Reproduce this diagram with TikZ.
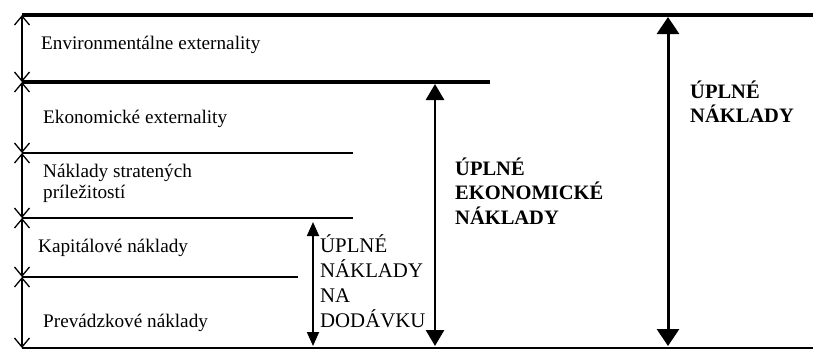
\documentclass[tikz,border=0pt]{standalone}
\usepackage{fontspec}
\setmainfont{Liberation Serif}
\usetikzlibrary{arrows.meta}
\newcommand{\firstline}{\rule{0pt}{20pt}}
\begin{document}
\begin{tikzpicture}[x=1pt,y=-1pt,
  seg/.style={line width=1.3pt,{Straight Barb[length=9pt,width=15pt]}-{Straight Barb[length=9pt,width=15pt]}},
  bigarrow/.style={line width=3pt,{Triangle[length=17pt,width=22pt]}-{Triangle[length=17pt,width=22pt]}},
  midarrow/.style={line width=2.8pt,{Triangle[length=16pt,width=18pt]}-{Triangle[length=16pt,width=18pt]}},
  smallarrow/.style={line width=1.8pt,{Triangle[length=14pt,width=12pt]}-{Triangle[length=14pt,width=12pt]}},
  lbl/.style={anchor=base west,inner sep=0pt,font=\fontsize{19.2}{23}\selectfont},
  mlbl/.style={anchor=north west,inner sep=0pt,align=left,font=\fontsize{19.2}{21.5}\selectfont},
  blbl/.style={anchor=north west,inner sep=0pt,align=left,font=\fontsize{20.5}{24.5}\selectfont\bfseries},
  dlbl/.style={anchor=north west,inner sep=0pt,align=left,font=\fontsize{20.8}{25}\selectfont}]
\useasboundingbox (0,0) rectangle (813,351);
% level coordinates
\coordinate (L0) at (22,15);  \coordinate (L0r) at (813,15);
\coordinate (L1) at (22,82);  \coordinate (L1r) at (490,82);
\coordinate (L2) at (22,153); \coordinate (L2r) at (353,153);
\coordinate (L3) at (22,218); \coordinate (L3r) at (353,218);
\coordinate (L4) at (22,277); \coordinate (L4r) at (298,277);
\coordinate (L5) at (22,348); \coordinate (L5r) at (813,348);
% horizontal lines
\draw[line width=4pt] (L0) -- (L0r);
\draw[line width=3.5pt] (L1) -- (L1r);
\draw[line width=1.6pt] (L2) -- (L2r);
\draw[line width=1.6pt] (L3) -- (L3r);
\draw[line width=1.6pt] (L4) -- (L4r);
\draw[line width=2.5pt] (L5) -- (L5r);
% left segment arrows
\draw[seg] (L0) -- (L1);
\draw[seg] (L1) -- (L2);
\draw[seg] (L2) -- (L3);
\draw[seg] (L3) -- (L4);
\draw[seg] (L4) -- (L5);
% total arrows
\coordinate (At) at (668,17);  \coordinate (Ab) at (668,346);
\coordinate (Et) at (435,84);  \coordinate (Eb) at (435,346);
\coordinate (Dt) at (313,222); \coordinate (Db) at (313,346);
\draw[bigarrow] (At) -- (Ab);
\draw[midarrow] (Et) -- (Eb);
\draw[smallarrow] (Dt) -- (Db);
% labels (north west = first baseline - 20)
\node[lbl] (env) at (41,49) {Environmentálne externality};
\node[lbl] (eko) at (43,123) {Ekonomické externality};
\node[mlbl] (strat) at (43,157) {\firstline Náklady stratených\\príležitostí};
\node[lbl] (kap) at (38,252) {Kapitálové náklady};
\node[lbl] (prev) at (43,327) {Prevádzkové náklady};
\node[blbl] (uen) at (455,155) {\firstline ÚPLNÉ\\EKONOMICKÉ\\NÁKLADY};
\node[blbl] (un) at (690,78) {\firstline ÚPLNÉ\\NÁKLADY};
\node[dlbl] (und) at (320,232) {\firstline ÚPLNÉ\\NÁKLADY\\NA\\DODÁVKU};
\end{tikzpicture}
\end{document}
